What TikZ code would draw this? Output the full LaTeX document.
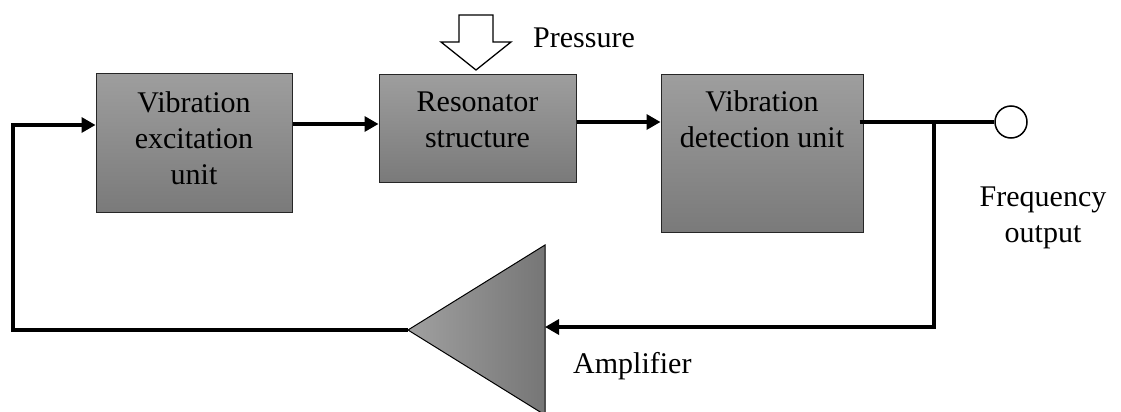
\documentclass[tikz,border=0pt]{standalone}
\usepackage{fontspec}
\setmainfont{Liberation Serif}
\usetikzlibrary{arrows.meta,calc}
\definecolor{boxtop}{RGB}{158,158,158}
\definecolor{boxbot}{RGB}{122,122,122}
\definecolor{ampleft}{RGB}{160,160,160}
\definecolor{ampright}{RGB}{118,118,118}
\tikzset{
  blk/.style={draw=black!85, line width=1pt, rectangle, top color=boxtop, bottom color=boxbot, inner sep=0pt},
  txt/.style={font=\fontsize{30}{36}\selectfont, align=center, inner sep=0pt, anchor=base},
  conn/.style={line width=3.3pt, -{Triangle[length=14pt,width=15pt]}},
  wire/.style={line width=3.3pt},
}
\begin{document}
\begin{tikzpicture}[x=1pt,y=-1pt]
\useasboundingbox (0,0) rectangle (1121,412);
% blocks
\node[blk, minimum width=196pt, minimum height=139pt] (b1) at (194,142.5) {};
\node[blk, minimum width=197pt, minimum height=108pt] (b2) at (477.5,128) {};
\node[blk, minimum width=202pt, minimum height=158pt] (b3) at (762,153) {};
% block texts (anchor base = last line's baseline)
\node[txt] (t1) at (194,184) {Vibration\\excitation\\unit};
\node[txt] (t2) at (477.5,147) {Resonator\\structure};
\node[txt] (t3) at (762,147) {Vibration\\detection unit};
% amplifier
\coordinate (ampout) at (408,330);
\coordinate (amptop) at (545,245);
\coordinate (ampbot) at (545,415);
\coordinate (ampin) at (545,327);
\shade[left color=ampleft, right color=ampright] (ampout) -- (amptop) -- (ampbot) -- cycle;
\draw[line width=1pt, line join=miter] (ampout) -- (amptop) -- (ampbot) -- cycle;
\node[txt, anchor=base west] (tamp) at (573,373) {Amplifier};
% pressure arrow
\draw[line width=1.3pt, fill=white, line join=miter]
  (459,15) -- (493,15) -- (493,42) -- (511,42) -- (476,70) -- (441,42) -- (459,42) -- cycle;
\coordinate (presstip) at (476,70);
\node[txt, anchor=base west] (tpress) at (533,48) {Pressure};
% output terminal
\node[draw, line width=1.5pt, circle, minimum size=32pt, inner sep=0pt, fill=white] (outc) at (1011,122) {};
\node[txt] (tfreq) at (1043,242) {Frequency\\output};
% connectors
\coordinate (fbcorner) at (13,330);
\coordinate (fbtop) at (13,125);
\draw[conn] (ampout) -- (fbcorner) -- (fbtop) -- (b1.west |- fbtop);
\draw[conn] (b1.east |- 0,124) -- (b2.west |- 0,124);
\draw[conn] (b2.east |- 0,122) -- (b3.west |- 0,122);
\draw[wire] ([xshift=-4pt]b3.east |- 0,122) -- (outc.west);
\coordinate (br) at (934,122);
\coordinate (brb) at (934,327);
\draw[conn] (br) -- (brb) -- (ampin);
\end{tikzpicture}
\end{document}
